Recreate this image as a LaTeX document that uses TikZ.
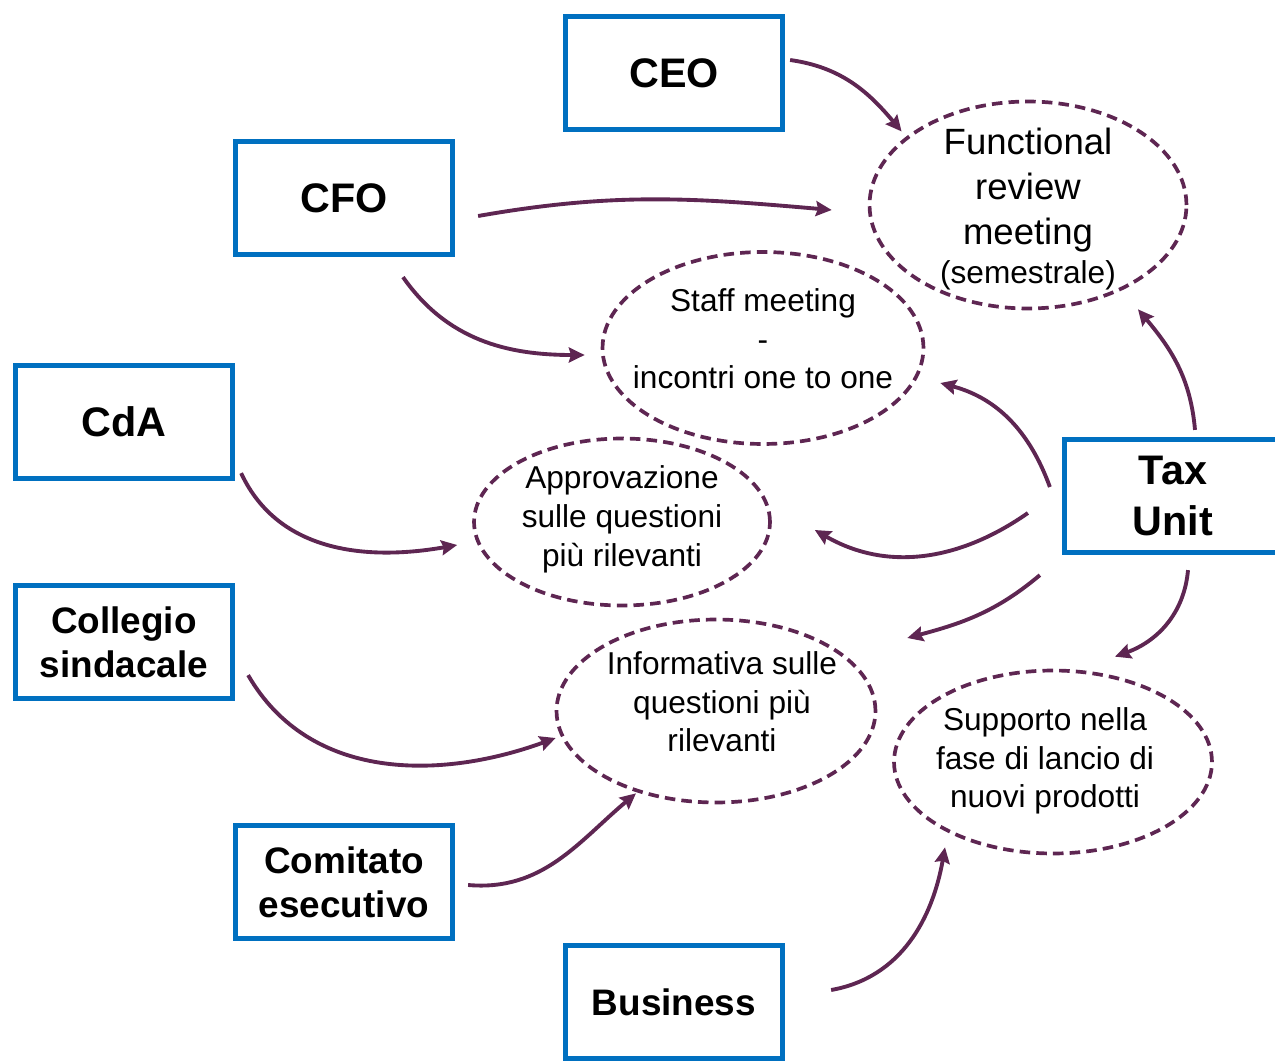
\documentclass[tikz,border=0pt]{standalone}
\usepackage{fontspec}
\setmainfont{Liberation Sans}
\usetikzlibrary{shapes.geometric,arrows.meta}
\definecolor{taxblue}{RGB}{0,112,192}
\definecolor{plum}{RGB}{94,38,82}
\newcommand\mtext[2][0pt]{\smash{\makebox[0pt]{\raisebox{#1}{\begin{tabular}{@{}c@{}}#2\end{tabular}}}}}
\tikzset{
  role/.style={draw=taxblue, line width=3pt, minimum width=4.34cm, minimum height=2.26cm, align=center, font=\bfseries\fontsize{23.5}{28.5}\selectfont},
  role2/.style={role, font=\bfseries\fontsize{21}{25}\selectfont},
  meet/.style={ellipse, draw=plum, line width=2.1pt, dash pattern=on 6pt off 3.5pt, inner sep=0pt, font=\fontsize{18}{22}\selectfont},
  flow/.style={draw=plum, line width=2.2pt, -{Stealth[length=9pt,width=8.5pt,inset=1.2pt]}},
}
\begin{document}
\begin{tikzpicture}[x=0.02cm, y=-0.02cm]
    \useasboundingbox (0,0) rectangle (1275,1061);
    \node[role] (ceo) at (674,73) {CEO};
    \node[role] (cfo) at (344,198) {CFO};
    \node[role] (cda) at (124,422) {CdA};
    \node[role2] (coll) at (124,642) {Collegio\\sindacale};
    \node[role2] (comit) at (344,882) {Comitato\\esecutivo};
    \node[role2] (bus) at (674,1002) {Business};
    \node[role] (tax) at (1173,496) {Tax\\Unit};

    \node[meet, minimum width=6.34cm, minimum height=4.14cm, font=\fontsize{20.8}{25.6}\selectfont] (func) at (1028,205)
        {\mtext[-8pt]{Functional\\review\\meeting\\[-3pt]{\fontsize{18}{22}\selectfont(semestrale)}}};
    \node[meet, minimum width=6.42cm, minimum height=3.84cm] (staff) at (763,348) {\mtext[-1.2pt]{Staff meeting\\-\\incontri one to one}};
    \node[meet, minimum width=5.92cm, minimum height=3.34cm] (appr) at (622,522) {\mtext[-3pt]{Approvazione\\sulle questioni\\più rilevanti}};
    \node[meet, minimum width=6.38cm, minimum height=3.66cm] (info) at (716,711) {\kern6.8pt\mtext[-1.2pt]{Informativa sulle\\questioni più\\rilevanti}};
    \node[meet, minimum width=6.36cm, minimum height=3.66cm] (supp) at (1053,762) {\mtext[-4pt]{Supporto nella\\fase di lancio di\\nuovi prodotti}\kern9.1pt};

    \draw[flow] ([shift={(5,-13)}]ceo.east) to[out=-8, in=130] ([shift={(-6,-4)}]func.150);
    \draw[flow] ([shift={(23,18)}]cfo.east) to[out=10, in=175] ([shift={(-36,5)}]func.west);
    \draw[flow] ([shift={(59,20)}]cfo.south) to[out=-55, in=180] ([shift={(-16,7)}]staff.west);
    \draw[flow] ([shift={(6,-8)}]cda.south east) to[out=-65, in=190] ([shift={(-15,23)}]appr.west);
    \draw[flow] ([shift={(13,-26)}]coll.south east) to[out=-60, in=200] ([shift={(1,27)}]info.west);
    \draw[flow] ([shift={(13,3)}]comit.east) to[out=-5, in=220] ([shift={(-80,-11)}]info.south);
    \draw[flow] ([shift={(46,-12)}]bus.east) to[out=10, in=260] ([shift={(-108,-8)}]supp.south);
    \draw[flow] ([shift={(22,-7)}]tax.north) to[out=95, in=-50] ([shift={(110,-1)}]func.south);
    \draw[flow] ([shift={(-12,-9)}]tax.west) to[out=110, in=-15] ([shift={(15,35)}]staff.east);
    \draw[flow] ([shift={(-34,17)}]tax.west) to[out=215, in=-30] ([shift={(43,8)}]appr.east);
    \draw[flow] ([shift={(-22,20)}]tax.south west) to[out=220, in=15] ([shift={(30,-73)}]info.east);
    \draw[flow] ([shift={(15,15)}]tax.south) to[out=-95, in=20] ([shift={(62,-12)}]supp.north);
\end{tikzpicture}
\end{document}
